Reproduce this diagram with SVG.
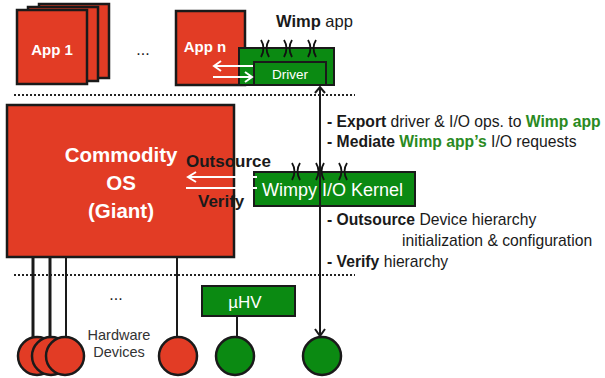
<svg xmlns="http://www.w3.org/2000/svg" width="605" height="378" viewBox="0 0 605 378">
<style>
.red{fill:#E23C25;stroke:#1a1a1a;stroke-width:2.5}
.grn{fill:#0B8A12;stroke:#1a1a1a;stroke-width:2}
.wt{fill:#fff;font-family:"Liberation Sans",Arial,sans-serif}
.bk{fill:#1a1a1a;font-family:"Liberation Sans",Arial,sans-serif}
.b{font-weight:bold}
.g{fill:#2A8A22;font-weight:bold}
.dot{stroke:#222;stroke-width:2;stroke-dasharray:2,2;fill:none}
.ln{stroke:#1a1a1a;fill:none}
.wa{stroke:#fff;stroke-width:2;fill:none}
.bh{stroke:#1a1a1a;stroke-width:2;fill:none}
.mk{stroke:#111;stroke-width:1.8;fill:none}
</style>

<g id="separators">
<line class="dot" x1="14" y1="95" x2="355" y2="95"/>
<line class="dot" x1="14" y1="275" x2="355" y2="275"/>
</g>

<g id="app1">
<rect class="red" x="39" y="4" width="70" height="74"/>
<rect class="red" x="28" y="7" width="70" height="74"/>
<rect class="red" x="17" y="10" width="70" height="74"/>
<text class="wt b" x="52" y="55" font-size="15" text-anchor="middle">App 1</text>
</g>
<text class="bk" x="143" y="55" font-size="16" text-anchor="middle">...</text>

<g id="appn">
<rect class="red" x="176" y="11" width="69" height="74"/>
<text class="wt b" x="205" y="52" font-size="15" text-anchor="middle">App n</text>
</g>

<g id="wimpapp">
<rect class="grn" x="239" y="48" width="95" height="37"/>
<rect class="grn" x="254" y="62" width="72" height="23"/>
<text class="wt" x="290" y="79" font-size="13.5" text-anchor="middle">Driver</text>
<text class="bk" x="276" y="27" font-size="16.5"><tspan class="b">Wimp</tspan> app</text>
</g>

<g id="os">
<rect class="red" x="7" y="105" width="227" height="152"/>
<text class="wt b" x="121" y="162" font-size="20.5" text-anchor="middle">Commodity</text>
<text class="wt b" x="121" y="190" font-size="20.5" text-anchor="middle">OS</text>
<text class="wt b" x="121" y="218" font-size="20.5" text-anchor="middle">(Giant)</text>
</g>

<g id="kernel">
<rect class="grn" x="254" y="172" width="161" height="34"/>
<text class="wt" x="262" y="196" font-size="18">Wimpy I/O Kernel</text>
</g>

<g id="uhv">
<rect class="grn" x="202" y="286" width="93" height="30"/>
<text class="wt" x="245" y="308" font-size="17" text-anchor="middle">µHV</text>
</g>

<g id="devices">
<circle class="red" cx="37" cy="356" r="19"/>
<circle class="red" cx="51" cy="356" r="19"/>
<circle class="red" cx="65" cy="356" r="19"/>
<circle class="red" cx="178" cy="356" r="19"/>
<circle class="grn" cx="235" cy="356" r="19" style="stroke-width:2.5"/>
<circle class="grn" cx="322" cy="356" r="19" style="stroke-width:2.5"/>
<text class="bk" x="119" y="340" font-size="14.5" text-anchor="middle" style="fill:#333">Hardware</text>
<text class="bk" x="119" y="357" font-size="14.5" text-anchor="middle" style="fill:#333">Devices</text>
<text class="bk" x="116" y="300" font-size="16" text-anchor="middle">...</text>
</g>

<g id="connectors">
<line class="ln" x1="33" y1="257" x2="33" y2="337" stroke-width="3"/>
<line class="ln" x1="50" y1="257" x2="50" y2="337" stroke-width="3"/>
<line class="ln" x1="66" y1="257" x2="66" y2="337" stroke-width="2"/>
<line class="ln" x1="177" y1="257" x2="177" y2="337" stroke-width="2"/>
<line class="ln" x1="237" y1="316" x2="237" y2="337" stroke-width="2"/>
<line class="ln" x1="320" y1="87" x2="320" y2="336" stroke-width="2"/>
<path class="bh" d="M315,93 L320,87 L325,93"/>
<path class="bh" d="M315,329 L320,336 L325,329"/>
<line class="wa" x1="253" y1="66" x2="214" y2="66"/>
<path class="wa" d="M221,61 L214,66 L221,71"/>
<line class="wa" x1="213" y1="77" x2="252" y2="77"/>
<path class="wa" d="M245,72 L252,77 L245,82"/>
<line class="wa" x1="257" y1="177" x2="188" y2="177"/>
<path class="wa" d="M196,172 L188,177 L196,182"/>
<line class="wa" x1="186" y1="188" x2="257" y2="188"/>
<path class="mk" d="M261,40 Q266,48 261,57 M269,40 Q264,48 269,57 M284,40 Q289,48 284,57 M292,40 Q287,48 292,57 M308,40 Q313,48 308,57 M316,40 Q311,48 316,57"/>
<path class="mk" d="M292,163 Q297,171 292,180 M300,163 Q295,171 300,180 M316,163 Q321,171 316,180 M324,163 Q319,171 324,180 M339,163 Q344,171 339,180 M347,163 Q342,171 347,180"/>
</g>

<g id="labels">
<text class="bk b" x="186" y="167" font-size="17">Outsource</text>
<text class="bk b" x="198" y="207" font-size="17">Verify</text>
<text class="bk" x="327" y="127" font-size="15.7"><tspan class="b">- Export</tspan> driver &amp; I/O ops. to <tspan class="g">Wimp app</tspan></text>
<text class="bk" x="327" y="147" font-size="15.7"><tspan class="b">- Mediate </tspan><tspan class="g">Wimp app’s</tspan> I/O requests</text>
<text class="bk" x="327" y="225" font-size="15.7"><tspan class="b">- Outsource</tspan> Device hierarchy</text>
<text class="bk" x="402" y="246" font-size="15.7">initialization &amp; configuration</text>
<text class="bk" x="327" y="267" font-size="15.7"><tspan class="b">- Verify</tspan> hierarchy</text>
</g>
</svg>
